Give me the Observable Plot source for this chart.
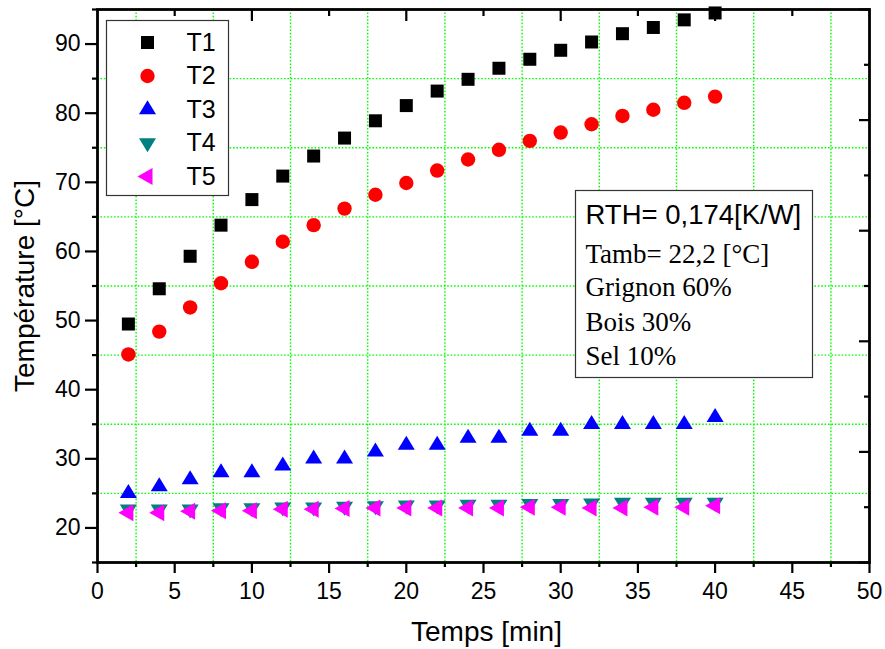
<!DOCTYPE html>
<html><head><meta charset="utf-8">
<script src="https://cdn.jsdelivr.net/npm/d3@7"></script>
<script src="https://cdn.jsdelivr.net/npm/@observablehq/plot@0.6"></script>
<style>
body{margin:0;background:#fff;}
#wrap{position:relative;width:885px;height:649px;}
</style></head><body><div id="wrap"></div>
<script>
// ---- data ----
const time = [2,4,6,8,10,12,14,16,18,20,22,24,26,28,30,32,34,36,38,40];
const T1 = [49.5,54.6,59.3,63.8,67.5,70.9,73.8,76.4,78.9,81.1,83.2,84.9,86.5,87.8,89.1,90.3,91.5,92.4,93.5,94.5];
const T2 = [45.1,48.4,51.9,55.4,58.5,61.4,63.8,66.2,68.2,69.9,71.7,73.3,74.7,76.0,77.2,78.4,79.6,80.5,81.5,82.4];
const T3 = [25,26,27,28,28,29,30,30,31,32,32,33,33,34,34,35,35,35,35,36];
const T4 = [22.7,22.7,22.7,22.9,22.9,23.0,23.0,23.1,23.2,23.3,23.3,23.4,23.4,23.5,23.5,23.6,23.7,23.7,23.7,23.7];
const T5 = [22.2,22.2,22.4,22.5,22.5,22.7,22.7,22.8,22.9,22.9,22.9,22.9,22.9,23.0,23.0,22.9,22.9,23.0,23.0,23.2];
const seriesNames = ["T1","T2","T3","T4","T5"];
const seriesColors = ["#000000","#ff0000","#0000ff","#008080","#ff00ff"];
const xMajorTicks = [0,5,10,15,20,25,30,35,40,45,50];
const xMinorTicks = [2.5,7.5,12.5,17.5,22.5,27.5,32.5,37.5,42.5,47.5];
const yMajorTicks = [20,30,40,50,60,70,80,90];
const yMinorTicks = [15,25,35,45,55,65,75,85,95];
const topMajorTicks = [10,20,30,40];
const topMinorTicks = [5,15,25,35,45];
const rightMajorTicks = [15,31,47,63,79,95];
const rightMinorTicks = [23,39,55,71,87];
const infoLines = ["RTH= 0,174[K/W]","Tamb= 22,2 [°C]","Grignon 60%","Bois 30%","Sel 10%"];
const xLabel = "Temps [min]";
const yLabel = "Température [°C]";

// ---- table ----
const seriesValues = [T1,T2,T3,T4,T5];
const rows = [];
seriesNames.forEach((s,i)=>time.forEach((t,j)=>rows.push({series:s,time:t,temp:seriesValues[i][j]})));

// ---- symbols (Origin-like) ----
function mk(fn){return {draw(c,size){const k=Math.sqrt(size/Math.PI)/7;fn(c,k);}};}
const symSquare = mk((c,k)=>{const a=6.5*k;c.moveTo(-a,-a);c.lineTo(a,-a);c.lineTo(a,a);c.lineTo(-a,a);c.closePath();});
const symCircle = mk((c,k)=>{const r=7.2*k;c.moveTo(r,0);c.arc(0,0,r,0,2*Math.PI);c.closePath();});
const symUp = mk((c,k)=>{const w=17*k,h=14*k;c.moveTo(0,-2*h/3);c.lineTo(w/2,h/3);c.lineTo(-w/2,h/3);c.closePath();});
const symDown = mk((c,k)=>{const w=17*k,h=14*k;c.moveTo(0,2*h/3);c.lineTo(w/2,-h/3);c.lineTo(-w/2,-h/3);c.closePath();});
const symLeft = mk((c,k)=>{const w=17*k,h=15*k;c.moveTo(-2*h/3,0);c.lineTo(h/3,-w/2);c.lineTo(h/3,w/2);c.closePath();});
const symbols = [symSquare,symCircle,symUp,symDown,symLeft];

const grid = {stroke:"#00ff00", strokeWidth:1.4, strokeDasharray:"1.6,1.8"};
const none = () => "";

const marks = [
  Plot.ruleX(xMinorTicks, grid),
  Plot.ruleY(yMinorTicks.filter(v=>v>15 && v<95), grid),
];
seriesNames.forEach((s,i)=>{
  marks.push(Plot.dot(rows.filter(d=>d.series===s), {x:"time", y:"temp", fill:seriesColors[i], symbol:symbols[i], r:7}));
});
// legend box
marks.push(Plot.frame({fill:"white", stroke:"#333", strokeWidth:1.2, insetLeft:9, insetTop:11, insetRight:641, insetBottom:367}));
seriesNames.forEach((s,i)=>{
  marks.push(Plot.dot([s], {frameAnchor:"top-left", dx:50, dy:33+i*33.5, fill:seriesColors[i], symbol:symbols[i], r:7}));
  marks.push(Plot.text([s], {frameAnchor:"top-left", dx:89, dy:33+i*33.5, text:d=>d, textAnchor:"start", lineAnchor:"middle", fontSize:25, fill:"black"}));
});
// info box
marks.push(Plot.frame({fill:"white", stroke:"#333", strokeWidth:1.2, insetLeft:478, insetTop:181, insetRight:57, insetBottom:185}));
const infoDy = [214,253,286,321,355];
infoLines.forEach((t,i)=>{
  marks.push(Plot.text([t], {frameAnchor:"top-left", dx:488, dy:infoDy[i], text:d=>d, textAnchor:"start", lineAnchor:"bottom",
    fontSize: i===0 ? 27.5 : 27, fontFamily: i===0 ? "Liberation Sans, Arial, sans-serif" : "Liberation Serif, Times New Roman, serif", fill:"black"}));
});
// frame & axes
marks.push(
  Plot.frame({stroke:"black", strokeWidth:2.8}),
  Plot.axisY({ticks:yMajorTicks, anchor:"left", tickSize:12, tickPadding:5, fontSize:23, label:null, strokeWidth:2.2}),
  Plot.axisY({ticks:yMinorTicks, anchor:"left", tickSize:5, tickFormat:none, label:null, strokeWidth:2.2}),
  Plot.axisX({ticks:xMajorTicks, anchor:"bottom", tickSize:11, tickPadding:9, fontSize:23, label:null, strokeWidth:2.2}),
  Plot.axisX({ticks:xMinorTicks, anchor:"bottom", tickSize:5, tickFormat:none, label:null, strokeWidth:2.2}),
  Plot.axisX({ticks:topMajorTicks, anchor:"top", tickSize:-11, tickFormat:none, label:null, strokeWidth:2.2}),
  Plot.axisX({ticks:topMinorTicks, anchor:"top", tickSize:-6, tickFormat:none, label:null, strokeWidth:2.2}),
  Plot.axisY({ticks:rightMajorTicks, anchor:"right", tickSize:-11, tickFormat:none, label:null, strokeWidth:2.2}),
  Plot.axisY({ticks:rightMinorTicks, anchor:"right", tickSize:-6, tickFormat:none, label:null, strokeWidth:2.2}),
  Plot.text([xLabel], {frameAnchor:"bottom", dx:3, dy:70, text:d=>d, textAnchor:"middle", lineAnchor:"middle", fontSize:28, fill:"black"}),
  Plot.text([yLabel], {frameAnchor:"left", dx:-72, dy:0, rotate:-90, text:d=>d, textAnchor:"middle", lineAnchor:"middle", fontSize:28, fill:"black"})
);

const chart = Plot.plot({
  width:885, height:649,
  marginLeft:97, marginRight:16, marginTop:9, marginBottom:87,
  style:{fontFamily:"Liberation Sans, Arial, sans-serif", fontSize:"22px", color:"black", background:"white", overflow:"visible"},
  x:{domain:[0,50]},
  y:{domain:[15,95]},
  marks
});
document.getElementById("wrap").appendChild(chart);
</script></body></html>
